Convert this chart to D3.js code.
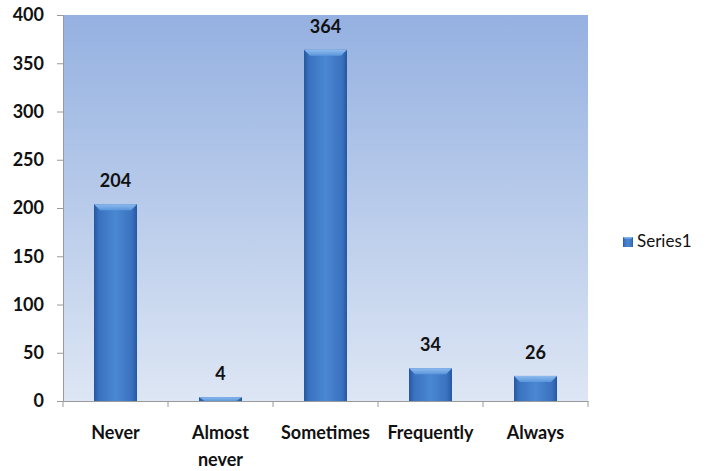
<!DOCTYPE html>
<html>
<head>
<meta charset="utf-8">
<script src="https://cdn.jsdelivr.net/npm/d3@7"></script>
<style>
  html, body { margin: 0; padding: 0; background: #ffffff; }
  svg { display: block; }
  text { font-family: Lato, "Open Sans", "Liberation Sans", sans-serif; }
</style>
</head>
<body>
<svg id="chart" width="710" height="471"></svg>
<script>
// Responses per frequency category
const categories = ["Never", "Almost\nnever", "Sometimes", "Frequently", "Always"];
const values = [204, 4, 364, 34, 26];
const yTicks = [0, 50, 100, 150, 200, 250, 300, 350, 400];
const seriesName = "Series1";

const svg = d3.select("#chart");
const margin = { left: 63, right: 122, top: 15, bottom: 70 };
const W = 710, H = 471;
const plotW = W - margin.left - margin.right;
const plotH = H - margin.top - margin.bottom;

const x = d3.scaleBand().domain(categories).range([0, plotW]).paddingInner(0).paddingOuter(0);
const y = d3.scaleLinear().domain([0, 400]).range([plotH, 0]);

const defs = svg.append("defs");

// plot background: deeper blue at the top fading to pale blue
const bg = defs.append("linearGradient").attr("id", "bgGrad")
  .attr("x1", 0).attr("y1", 0).attr("x2", 0).attr("y2", 1);
bg.append("stop").attr("offset", "0%").attr("stop-color", "#95b1e1");
bg.append("stop").attr("offset", "100%").attr("stop-color", "#dde6f4");

// bar body: darker edges, lighter centre
const barGrad = defs.append("linearGradient").attr("id", "barGrad")
  .attr("x1", 0).attr("y1", 0).attr("x2", 1).attr("y2", 0);
barGrad.append("stop").attr("offset", "0%").attr("stop-color", "#2557a0");
barGrad.append("stop").attr("offset", "12%").attr("stop-color", "#3a72c0");
barGrad.append("stop").attr("offset", "50%").attr("stop-color", "#4a88d2");
barGrad.append("stop").attr("offset", "88%").attr("stop-color", "#3a72c0");
barGrad.append("stop").attr("offset", "100%").attr("stop-color", "#2557a0");

// bevelled top cap
const capGrad = defs.append("linearGradient").attr("id", "capGrad")
  .attr("x1", 0).attr("y1", 0).attr("x2", 0).attr("y2", 1);
capGrad.append("stop").attr("offset", "0%").attr("stop-color", "#8fbbee");
capGrad.append("stop").attr("offset", "100%").attr("stop-color", "#5a97dc");

const g = svg.append("g").attr("transform", `translate(${margin.left},${margin.top})`);

g.append("rect").attr("x", 0).attr("y", 0).attr("width", plotW).attr("height", plotH)
  .attr("fill", "url(#bgGrad)");

// y axis
const yAxis = g.append("g").call(d3.axisLeft(y).tickValues(yTicks).tickSize(6).tickPadding(13));
yAxis.select(".domain").attr("stroke", "#9a9a9a");
yAxis.selectAll(".tick line").attr("stroke", "#9a9a9a");
yAxis.selectAll(".tick text").attr("font-size", 18).attr("font-weight", "bold").attr("fill", "#111");

// x axis with ticks at category boundaries
const xAxisG = g.append("g").attr("transform", `translate(0,${plotH})`);
xAxisG.call(d3.axisBottom(x).tickSize(0).tickFormat(""));
xAxisG.select(".domain").attr("stroke", "#9a9a9a");
const bounds = categories.map(c => x(c)).concat([plotW]);
xAxisG.selectAll("line.bound").data(bounds).join("line").attr("class", "bound")
  .attr("x1", d => d).attr("x2", d => d).attr("y1", 0).attr("y2", 6)
  .attr("stroke", "#9a9a9a");

// category labels (multi-line)
const labels = g.append("g").selectAll("text").data(categories).join("text")
  .attr("x", d => x(d) + x.bandwidth() / 2)
  .attr("y", plotH + 38)
  .attr("text-anchor", "middle")
  .attr("font-size", 18).attr("font-weight", "bold").attr("fill", "#111");
labels.each(function(d) {
  const lines = d.split("\n");
  d3.select(this).selectAll("tspan").data(lines).join("tspan")
    .attr("x", x(d) + x.bandwidth() / 2)
    .attr("dy", (l, i) => i === 0 ? 0 : 27)
    .text(l => l);
});

// bars
const barW = 43;
const data = categories.map((c, i) => ({ c, v: values[i] }));
const bars = g.append("g").selectAll("g").data(data).join("g")
  .attr("transform", d => `translate(${x(d.c) + x.bandwidth() / 2 - barW / 2},0)`);
bars.append("rect")
  .attr("x", 0).attr("y", d => y(d.v)).attr("width", barW)
  .attr("height", d => plotH - y(d.v))
  .attr("fill", "url(#barGrad)");
bars.append("path")
  .attr("d", d => {
    const top = y(d.v), h = Math.min(6, plotH - top);
    return `M0,${top} L${barW},${top} L${barW - 6},${top + h} L6,${top + h} Z`;
  })
  .attr("fill", "url(#capGrad)");

// value labels
g.append("g").selectAll("text").data(data).join("text")
  .attr("x", d => x(d.c) + x.bandwidth() / 2)
  .attr("y", d => y(d.v) - 17)
  .attr("text-anchor", "middle")
  .attr("font-size", 18).attr("font-weight", "bold").attr("fill", "#111")
  .text(d => d.v);

// legend
const lg = svg.append("g").attr("transform", "translate(623,237)");
lg.append("rect").attr("x", 0).attr("y", 0).attr("width", 10).attr("height", 10).attr("fill", "url(#barGrad)");
lg.append("path").attr("d", "M0,0 L10,0 L8,2 L2,2 Z").attr("fill", "url(#capGrad)");
lg.append("text").attr("x", 14).attr("y", 10).attr("font-size", 17).attr("fill", "#111")
  .text(seriesName);
</script>
</body>
</html>
